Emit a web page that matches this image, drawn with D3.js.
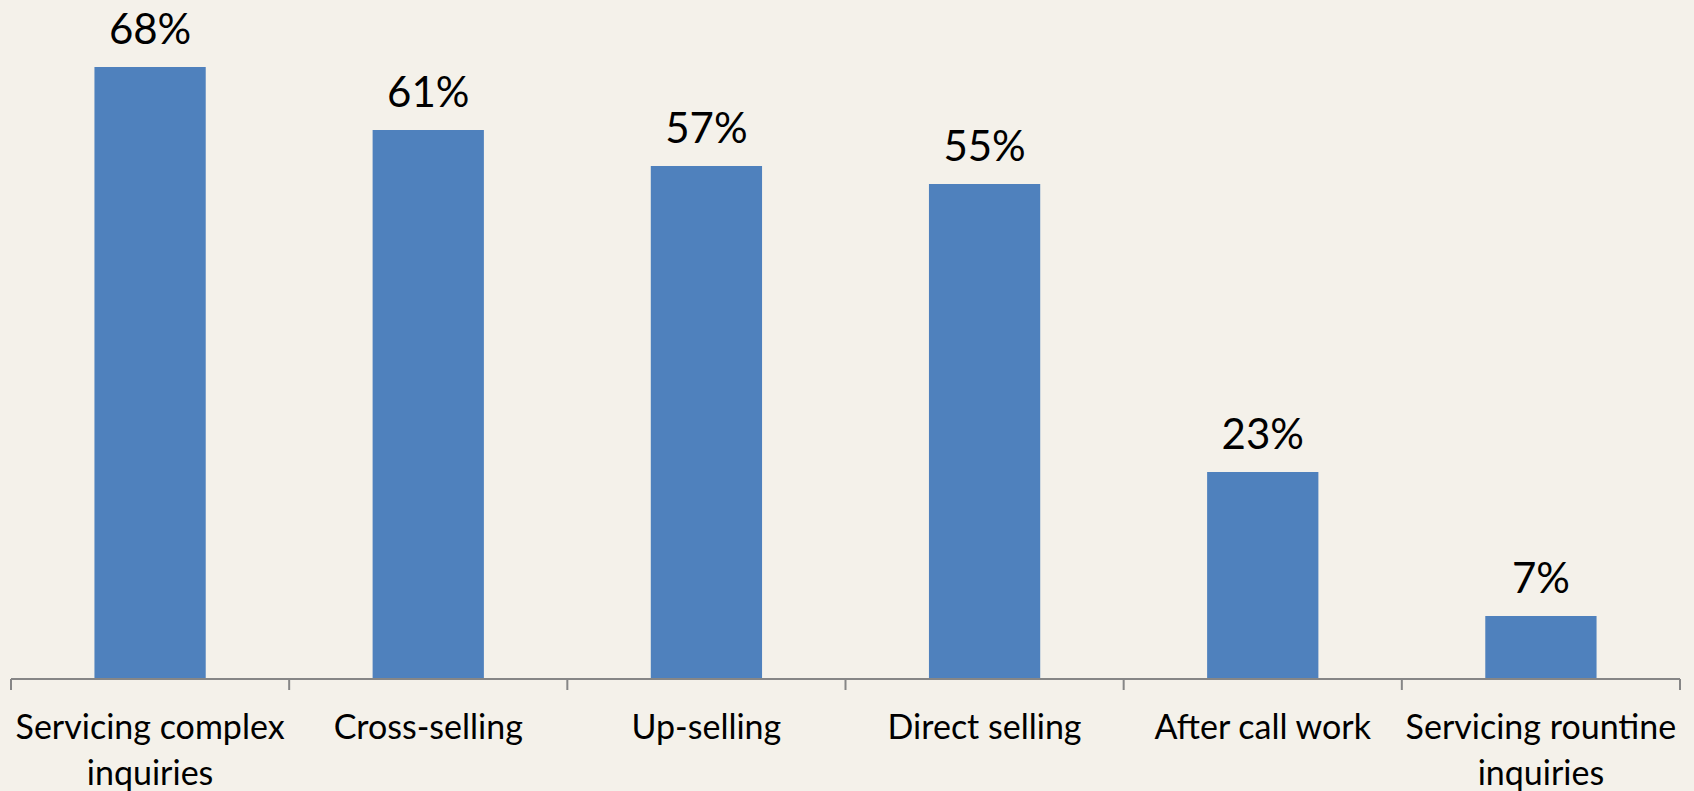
<!DOCTYPE html>
<html>
<head>
<meta charset="utf-8">
<script src="https://cdnjs.cloudflare.com/ajax/libs/d3/7.8.5/d3.min.js"></script>
<style>
  html, body { margin: 0; padding: 0; background: #f4f1ea; }
  svg { display: block; }
</style>
</head>
<body>
<svg></svg>
<script>
var categories = ["Servicing complex inquiries", "Cross-selling", "Up-selling", "Direct selling", "After call work", "Servicing rountine inquiries"];
var values = [0.68, 0.61, 0.57, 0.55, 0.23, 0.07];

var data = categories.map((c, i) => ({ name: c, value: values[i] }));

const svgWidth = 1694, svgHeight = 791;
var margin = { top: 4, right: 14, bottom: 112, left: 11 };
var width = svgWidth - margin.left - margin.right;
var height = svgHeight - margin.top - margin.bottom;

var svg = d3.select("svg")
    .attr("width", svgWidth)
    .attr("height", svgHeight);

svg.append("rect")
    .attr("width", svgWidth)
    .attr("height", svgHeight)
    .attr("fill", "#f4f1ea");

var g = svg.append("g")
    .attr("transform", "translate(" + margin.left + "," + margin.top + ")");

var x = d3.scaleBand()
    .domain(categories)
    .range([0, width])
    .paddingInner(0.6)
    .paddingOuter(0.3);

var y = d3.scaleLinear()
    .domain([0, 0.75])
    .range([height, 0]);

// bars
g.selectAll(".bar")
    .data(data)
    .enter()
    .append("rect")
    .attr("class", "bar")
    .attr("x", d => x(d.name))
    .attr("y", d => y(d.value))
    .attr("width", x.bandwidth())
    .attr("height", d => height - y(d.value))
    .attr("fill", "#4f81bd");

// value labels
g.selectAll(".val")
    .data(data)
    .enter()
    .append("text")
    .attr("class", "val")
    .attr("x", d => x(d.name) + x.bandwidth() / 2)
    .attr("y", d => y(d.value) - 23)
    .attr("text-anchor", "middle")
    .attr("font-family", "Lato")
    .attr("font-size", 42)
    .attr("fill", "#000")
    .text(d => d3.format(".0%")(d.value));

// x axis with ticks between categories
var step = x.step();
var xAxis = g.append("g")
    .attr("transform", "translate(0," + height + ")");

xAxis.append("line")
    .attr("x1", 0)
    .attr("x2", width)
    .attr("stroke", "#868686")
    .attr("stroke-width", 2);

xAxis.selectAll(".tick")
    .data(d3.range(categories.length + 1))
    .enter()
    .append("line")
    .attr("x1", i => i * step)
    .attr("x2", i => i * step)
    .attr("y1", 0)
    .attr("y2", 11)
    .attr("stroke", "#868686")
    .attr("stroke-width", 2);

var labels = xAxis.selectAll(".lbl")
    .data(categories)
    .enter()
    .append("text")
    .attr("class", "lbl")
    .attr("x", d => x(d) + x.bandwidth() / 2)
    .attr("y", 60)
    .attr("text-anchor", "middle")
    .attr("font-family", "Lato")
    .attr("font-size", 34)
    .attr("fill", "#000")
    .text(d => d)
    .call(wrap, step - 2);

function wrap(text, w) {
    text.each(function() {
        var t = d3.select(this),
            words = t.text().split(/\s+/).reverse(),
            word, line = [], lineNo = 0,
            xx = t.attr("x"), yy = t.attr("y"),
            tspan = t.text(null).append("tspan").attr("x", xx).attr("y", yy);
        while ((word = words.pop())) {
            line.push(word);
            tspan.text(line.join(" "));
            if (tspan.node().getComputedTextLength() > w && line.length > 1) {
                line.pop();
                tspan.text(line.join(" "));
                line = [word];
                tspan = t.append("tspan").attr("x", xx).attr("y", +yy + (++lineNo) * 46).text(word);
            }
        }
    });
}
</script>
</body>
</html>
